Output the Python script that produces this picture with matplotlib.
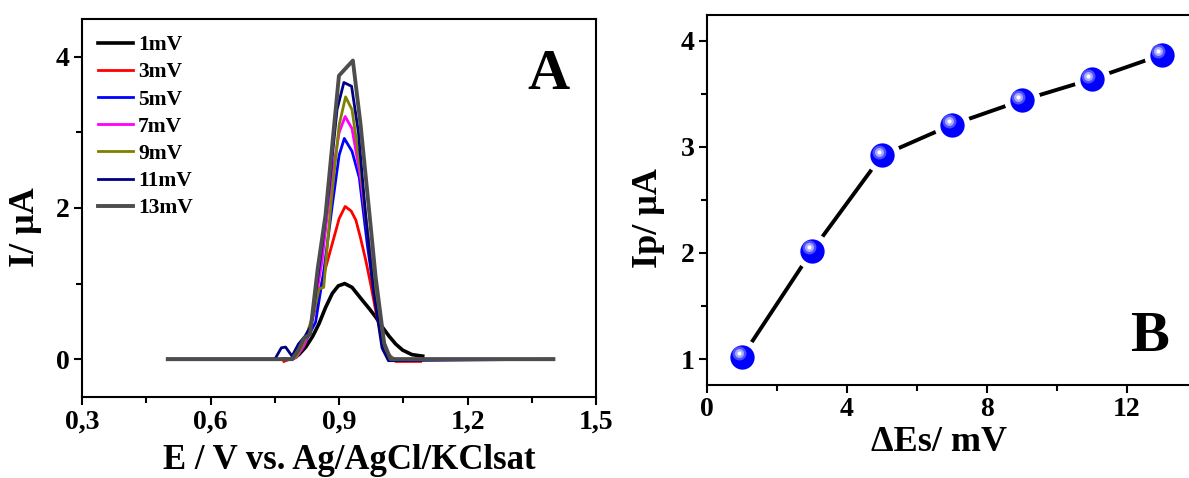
import matplotlib
matplotlib.use("Agg")
import matplotlib.pyplot as plt
import matplotlib.ticker as ticker
from matplotlib.transforms import offset_copy

plt.rcParams["font.family"] = ["Liberation Serif", "DejaVu Serif"]
plt.rcParams["font.weight"] = "bold"
plt.rcParams["axes.linewidth"] = 1.5

# Panel A: DPV curves, potential (V) and current (uA)
E_1mV = [0.77, 0.79, 0.806, 0.822, 0.838, 0.853, 0.868, 0.884, 0.898, 0.913, 0.93, 0.954,
         0.97, 0.985, 1.0, 1.017, 1.032, 1.048, 1.07, 1.095]
I_1mV = [0.0, 0.0, 0.06, 0.16, 0.3, 0.47, 0.68, 0.87, 0.97, 1.00, 0.95, 0.78,
         0.67, 0.56, 0.43, 0.30, 0.2, 0.12, 0.06, 0.04]

E_3mV = [0.771, 0.798, 0.814, 0.829, 0.841, 0.853, 0.868, 0.884, 0.9, 0.914, 0.928, 0.939,
         0.95, 0.962, 0.974, 0.985, 0.997, 1.009, 1.02, 1.032, 1.06, 1.09]
I_3mV = [-0.03, 0.03, 0.14, 0.34, 0.6, 0.87, 1.2, 1.53, 1.86, 2.02, 1.96, 1.84,
         1.6, 1.31, 0.98, 0.65, 0.35, 0.12, 0.02, -0.03, -0.03, -0.03]

E_5mV = [0.5, 0.78, 0.80, 0.82, 0.845, 0.865, 0.884, 0.90, 0.912, 0.93, 0.947, 0.966, 0.986, 1.005, 1.025, 1.4]
I_5mV = [0.0, 0.0, 0.03, 0.22, 0.49, 1.2, 2.04, 2.7, 2.92, 2.75, 2.4, 1.5, 0.7, 0.1, 0.0, 0.0]

E_7mV = [0.5, 0.78, 0.80, 0.82, 0.84, 0.86, 0.88, 0.90, 0.914, 0.93, 0.95, 0.97, 0.99, 1.01, 1.03, 1.06, 1.4]
I_7mV = [0.0, 0.0, 0.02, 0.2, 0.6, 1.3, 2.3, 3.0, 3.21, 3.05, 2.4, 1.5, 0.6, 0.1, -0.02, 0.0, 0.0]

E_9mV = [0.5, 0.78, 0.80, 0.82, 0.84, 0.853, 0.864, 0.88, 0.90, 0.915, 0.93, 0.95, 0.97, 0.99, 1.01, 1.03, 1.4]
I_9mV = [0.0, 0.0, 0.03, 0.25, 0.6, 0.93, 0.95, 2.0, 3.1, 3.47, 3.3, 2.5, 1.5, 0.6, 0.08, 0.0, 0.0]

E_11mV = [0.5, 0.75, 0.765, 0.775, 0.79, 0.805, 0.82, 0.835, 0.86, 0.876, 0.895, 0.911, 0.929,
          0.945, 0.962, 0.98, 1.0, 1.015, 1.4]
I_11mV = [0.0, 0.0, 0.15, 0.16, 0.04, 0.2, 0.3, 0.45, 1.5, 2.24, 3.3, 3.66, 3.61,
          3.0, 1.885, 0.9, 0.15, -0.02, 0.0]

E_13mV = [0.5, 0.79, 0.805, 0.818, 0.832, 0.85, 0.868, 0.8995, 0.932, 0.95, 0.9713, 0.985, 1.005, 1.02, 1.4]
I_13mV = [0.0, 0.0, 0.12, 0.28, 0.33, 1.2, 1.9, 3.75, 3.95, 3.1, 1.885, 1.09, 0.21, 0.0, 0.0]

curve_E = [E_1mV, E_3mV, E_5mV, E_7mV, E_9mV, E_11mV, E_13mV]
curve_I = [I_1mV, I_3mV, I_5mV, I_7mV, I_9mV, I_11mV, I_13mV]
curve_labels = ["1mV", "3mV", "5mV", "7mV", "9mV", "11mV", "13mV"]
curve_colors = ["black", "red", "blue", "magenta", "#808000", "#000080", "#4d4d4d"]
curve_widths = [2.6, 2.0, 2.0, 2.0, 2.0, 2.0, 2.8]

# Panel B: peak current vs step potential
dEs = [1, 3, 5, 7, 9, 11, 13]
Ip = [1.02, 2.02, 2.92, 3.21, 3.44, 3.64, 3.87]

fig = plt.figure(figsize=(11.89, 4.78), dpi=100)
axA = fig.add_axes([0.069, 0.1695, 0.4325, 0.7908])
axB = fig.add_axes([0.5946, 0.1946, 0.4121, 0.774])

# ---- panel A
for E, I, lab, c, lw in zip(curve_E, curve_I, curve_labels, curve_colors, curve_widths):
    axA.plot(E, I, color=c, lw=lw, label=lab, solid_joinstyle="round")

axA.set_xlim(0.3, 1.5)
axA.set_ylim(-0.5, 4.5)
axA.xaxis.set_major_locator(ticker.MultipleLocator(0.3))
axA.xaxis.set_minor_locator(ticker.MultipleLocator(0.15))
axA.yaxis.set_major_locator(ticker.MultipleLocator(2))
axA.yaxis.set_minor_locator(ticker.MultipleLocator(1))
axA.xaxis.set_major_formatter(ticker.FuncFormatter(lambda v, p: f"{v:.1f}".replace(".", ",")))
axA.set_xlabel("E / V vs. Ag/AgCl/KClsat", fontsize=25, fontweight="bold")
axA.xaxis.set_label_coords(0.52, -0.125)
axA.set_ylabel("I/ μA", fontsize=26, fontweight="bold")
axA.yaxis.set_label_coords(-0.078, 0.45)
axA.text(0.907, 0.852, "A", transform=axA.transAxes, fontsize=42, fontweight="bold",
         ha="center", va="center")
axA.legend(loc="upper left", bbox_to_anchor=(0.0, 1.0), frameon=False, fontsize=15.5,
           handlelength=1.6, handletextpad=0.25, labelspacing=0.33, borderpad=0.3,
           borderaxespad=0.45)

# ---- panel B
axB.plot(dEs, Ip, color="black", lw=2.8, zorder=2)
axB.plot(dEs, Ip, "o", ms=25, color="white", zorder=3)
axB.plot(dEs, Ip, "o", ms=17.5, color="#0000ff", mew=0, zorder=4)
hl = offset_copy(axB.transData, fig=fig, x=-2.5, y=2.5, units="points")
axB.plot(dEs, Ip, "o", ms=10, color="#5050ff", mew=0, transform=hl, zorder=5)
axB.plot(dEs, Ip, "o", ms=6.5, color="#a8a8ff", mew=0, transform=hl, zorder=6)
axB.plot(dEs, Ip, "o", ms=3, color="white", mew=0, transform=hl, zorder=7)

axB.set_xlim(0, 14)
axB.set_ylim(0.755, 4.245)
axB.xaxis.set_major_locator(ticker.MultipleLocator(4))
axB.xaxis.set_minor_locator(ticker.MultipleLocator(2))
axB.yaxis.set_major_locator(ticker.MultipleLocator(1))
axB.yaxis.set_minor_locator(ticker.MultipleLocator(0.5))
axB.set_xlabel("ΔEs/ mV", fontsize=26, fontweight="bold")
axB.xaxis.set_label_coords(0.473, -0.11)
axB.set_ylabel("Ip/ μA", fontsize=26, fontweight="bold")
axB.yaxis.set_label_coords(-0.086, 0.45)
axB.text(0.904, 0.13, "B", transform=axB.transAxes, fontsize=42, fontweight="bold",
         ha="center", va="center")

for ax in (axA, axB):
    ax.tick_params(which="major", direction="out", length=6, width=1.5, labelsize=20, pad=3)
    ax.tick_params(which="minor", direction="out", length=4, width=1.5)
    for t in ax.get_xticklabels() + ax.get_yticklabels():
        t.set_fontweight("bold")

fig.savefig("out.png", dpi=100)
